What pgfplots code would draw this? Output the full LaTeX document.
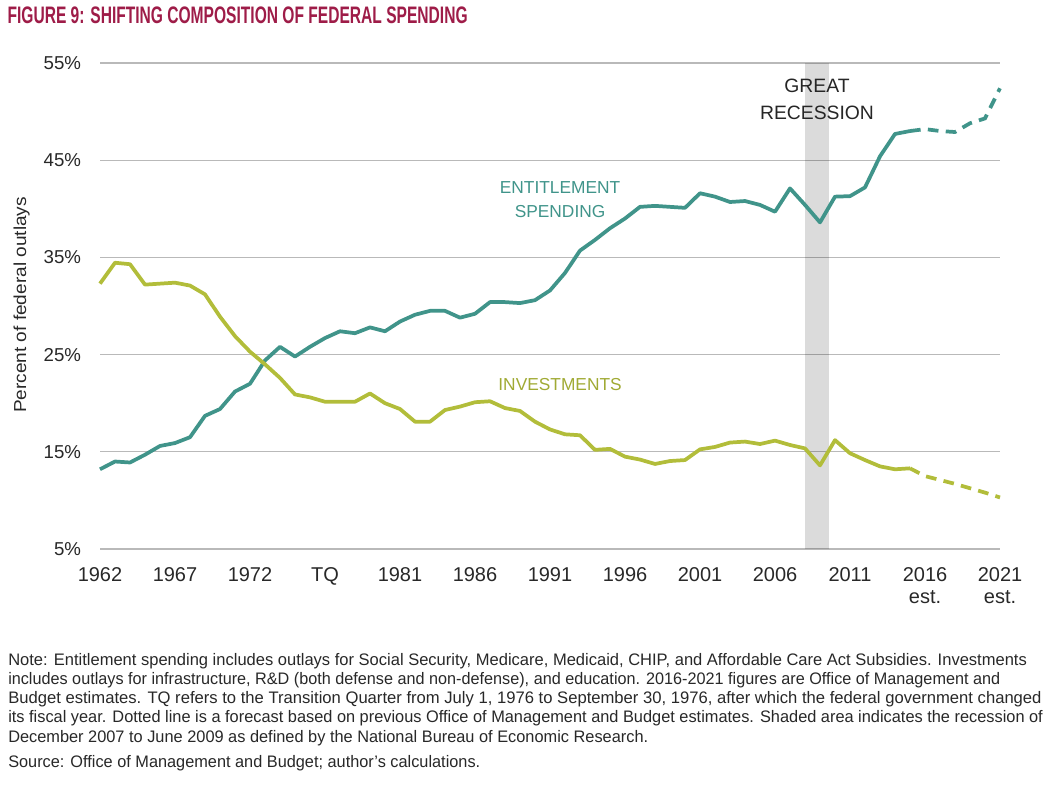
\documentclass[border=0pt]{standalone}
\usepackage{pgfplots}
\pgfplotsset{compat=1.18}
\usepackage{fontspec}
\setmainfont{Liberation Sans}
\usepackage{graphicx}
\definecolor{tealc}{RGB}{64,148,138}
\definecolor{olivec}{RGB}{178,189,58}
\definecolor{titlec}{RGB}{158,28,72}
\definecolor{gridc}{RGB}{185,185,185}
\definecolor{textc}{RGB}{40,40,40}
\newlength\fitlen
\newcommand\fitw[2]{\settowidth{\fitlen}{#2}\pgfmathsetmacro\fitsf{#1/\fitlen}\scalebox{\fitsf}[1]{#2}}
\begin{document}
\begin{tikzpicture}
\useasboundingbox (0,0) rectangle (795pt,591.75pt);
% title
\node[anchor=base west, inner sep=0pt, text=titlec] at (5.5pt,574pt)
  {\resizebox{345pt}{12.5pt}{\bfseries FIGURE 9: SHIFTING COMPOSITION OF FEDERAL SPENDING}};
% y label
\node[rotate=90, inner sep=0pt, text=textc, font=\fontsize{13}{15}\selectfont] at (16.3pt,363pt)
  {\fitw{162pt}{Percent of federal outlays}};
\begin{axis}[
  at={(75pt,180pt)}, anchor=south west,
  scale only axis, width=675pt, height=364.5pt,
  xmin=0, xmax=60, ymin=5, ymax=55,
  axis line style={draw=none},
  tick style={draw=none},
  major tick length=0pt,
  ymajorgrids, grid style={gridc, line width=1pt},
  xtick={0,5,...,60},
  xticklabels={1962,1967,1972,TQ,1981,1986,1991,1996,2001,2006,2011,{2016\\est.},{2021\\est.}},
  ytick={5,15,...,55},
  /pgf/number format/assume math mode=true,
  yticklabel={\pgfmathprintnumber{\tick}\%},
  xticklabel style={font=\fontsize{15}{16.5}\selectfont, text=textc, align=center, anchor=north, inner sep=0pt, yshift=-13.5pt},
  yticklabel style={font=\fontsize{14}{16}\selectfont, text=textc, anchor=east, inner sep=0pt, xshift=-14pt},
  clip=false,
]
% recession band
\addplot[draw=none, fill=black, fill opacity=0.14] coordinates {(47,5) (47,55) (48.6,55) (48.6,5)} -- cycle;
% entitlement spending
\addplot[tealc, line width=2.8pt, line join=round] coordinates {
(0,13.2) (1,14.0) (2,13.9) (3,14.7) (4,15.6) (5,15.9) (6,16.5) (7,18.7) (8,19.4) (9,21.2)
(10,22.0) (11,24.4) (12,25.8) (13,24.8) (14,25.8) (15,26.7) (16,27.4) (17,27.2) (18,27.8) (19,27.4)
(20,28.4) (21,29.1) (22,29.5) (23,29.5) (24,28.8) (25,29.2) (26,30.4) (27,30.4) (28,30.3) (29,30.6)
(30,31.6) (31,33.4) (32,35.7) (33,36.8) (34,38.0) (35,39.0) (36,40.2) (37,40.3) (38,40.2) (39,40.1)
(40,41.6) (41,41.25) (42,40.7) (43,40.8) (44,40.4) (45,39.7) (46,42.1) (47,40.4) (48,38.6) (49,41.25)
(50,41.3) (51,42.2) (52,45.4) (53,47.7) (54,48.0)};
\addplot[tealc, line width=2.8pt, dash pattern=on 8pt off 5.5pt] coordinates {
(54,48.0) (55,48.2) (56,48.0) (57,47.9) (58,48.8) (59,49.3) (60,52.4)};
% investments
\addplot[olivec, line width=2.8pt, line join=round] coordinates {
(0,32.3) (1,34.45) (2,34.3) (3,32.2) (4,32.3) (5,32.4) (6,32.1) (7,31.2) (8,28.9) (9,26.9)
(10,25.3) (11,24.0) (12,22.6) (13,20.9) (14,20.6) (15,20.15) (16,20.15) (17,20.15) (18,21.0) (19,20.0)
(20,19.4) (21,18.1) (22,18.1) (23,19.3) (24,19.65) (25,20.1) (26,20.2) (27,19.5) (28,19.2) (29,18.1)
(30,17.3) (31,16.8) (32,16.7) (33,15.2) (34,15.3) (35,14.5) (36,14.2) (37,13.75) (38,14.05) (39,14.15)
(40,15.25) (41,15.5) (42,15.95) (43,16.05) (44,15.8) (45,16.15) (46,15.7) (47,15.35) (48,13.6) (49,16.2)
(50,14.85) (51,14.15) (52,13.5) (53,13.2) (54,13.3)};
\addplot[olivec, line width=2.8pt, dash pattern=on 8pt off 5.5pt] coordinates {
(54,13.3) (55,12.5) (56,12.1) (57,11.7) (58,11.25) (59,10.8) (60,10.3)};
% annotations
\node[font=\fontsize{14.5}{16}\selectfont, text=black!85] at (axis cs:47.8,52.66) {GREAT};
\node[font=\fontsize{14.5}{16}\selectfont, text=black!85] at (axis cs:47.8,49.83) {RECESSION};
\node[font=\fontsize{13}{15}\selectfont, text=tealc] at (axis cs:30.67,42.21) {ENTITLEMENT};
\node[font=\fontsize{13}{15}\selectfont, text=tealc] at (axis cs:30.67,39.70) {SPENDING};
\node[font=\fontsize{13}{15}\selectfont, text=olivec!90!black] at (axis cs:30.67,21.87) {INVESTMENTS};
\end{axis}
% notes
\begin{scope}[every node/.style={anchor=base west, inner sep=0pt, text=textc, font=\fontsize{12.5}{14}\selectfont}]
\node at (6pt,92.25pt) {\fitw{764pt}{Note: Entitlement spending includes outlays for Social Security, Medicare, Medicaid, CHIP, and Affordable Care Act Subsidies. Investments}};
\node at (6pt,78pt) {\fitw{744pt}{includes outlays for infrastructure, R\&D (both defense and non-defense), and education. 2016-2021 figures are Office of Management and}};
\node at (6pt,63.75pt) {\fitw{775pt}{Budget estimates. TQ refers to the Transition Quarter from July 1, 1976 to September 30, 1976, after which the federal government changed}};
\node at (6pt,49.5pt) {\fitw{776pt}{its fiscal year. Dotted line is a forecast based on previous Office of Management and Budget estimates. Shaded area indicates the recession of}};
\node at (6pt,34.5pt) {\fitw{480pt}{December 2007 to June 2009 as defined by the National Bureau of Economic Research.}};
\node at (6pt,16.5pt) {\fitw{354pt}{Source: Office of Management and Budget; author's calculations.}};
\end{scope}
\end{tikzpicture}
\end{document}
